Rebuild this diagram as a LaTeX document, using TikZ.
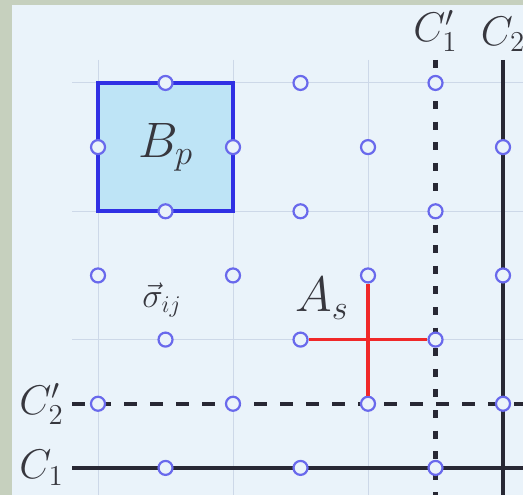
\documentclass[tikz,border=0pt]{standalone}
\usepackage{xcolor}
\usepackage{tikz}

\definecolor{bgblue}{RGB}{234,243,250}
\definecolor{framegreen}{RGB}{198,208,190}
\definecolor{gridgray}{RGB}{205,216,232}
\definecolor{plaqfill}{RGB}{190,228,246}
\definecolor{plaqblue}{RGB}{48,48,228}
\definecolor{siteblue}{RGB}{105,105,236}
\definecolor{starred}{RGB}{240,40,40}
\definecolor{cutgray}{RGB}{40,40,52}
\definecolor{labgray}{RGB}{55,55,62}

\begin{document}
\begin{tikzpicture}[x=33.75pt,y=32.08pt]
    \tikzstyle{site} = [circle, draw=siteblue, line width=1.1pt, fill=bgblue, inner sep=0pt, minimum size=7pt]
    \tikzstyle{grid} = [draw=gridgray, line width=0.5pt]
    \tikzstyle{plaq} = [rectangle, draw=plaqblue, fill=plaqfill, line width=2pt, minimum width=67.5pt, minimum height=64.16pt, text=labgray, font=\fontsize{26}{30}\selectfont]
    \tikzstyle{cut} = [draw=cutgray, line width=2pt]
    \tikzstyle{dualcut} = [draw=cutgray, line width=2pt, dash pattern=on 6.5pt off 6.5pt]
    \tikzstyle{dualvert} = [draw=cutgray, line width=2.4pt, dash pattern=on 4pt off 6.3pt]
    \tikzstyle{lab} = [text=labgray, font=\fontsize{20}{24}\selectfont]
    \tikzstyle{star} = [draw=starred, line width=1.8pt]
    \useasboundingbox (-1.452,-0.421) rectangle (6.296,7.293);
    \fill[bgblue] (-1.452,-0.421) rectangle (6.296,7.293);
    \fill[framegreen] (-1.452,-0.421) rectangle (-1.274,7.293);
    \fill[framegreen] (-1.452,7.22) rectangle (6.296,7.293);
    % light lattice
    \foreach \x in {0,2,4}
        \draw[grid] (\x,6.36) -- (\x,-0.421);
    \foreach \y in {2,4,6}
        \draw[grid] (-0.385,\y) -- (6.296,\y);
    % plaquette
    \node [plaq] (Bp) at (1,5) {$B_p$};
    % cuts
    \node [lab, anchor=east, inner xsep=4pt] (C1lab) at (-0.385,0) {$C_1$};
    \node [lab, anchor=east, inner xsep=4pt] (C2plab) at (-0.385,1) {$C_2'$};
    \node [lab, anchor=south, inner ysep=4pt] (C1plab) at (5,6.36) {$C_1'$};
    \node [lab, anchor=south, inner ysep=4pt] (C2lab) at (6,6.36) {$C_2$};
    \coordinate (C1end) at (6.296,0);
    \coordinate (C2pend) at (6.296,1);
    \coordinate (C1pend) at (5,-0.421);
    \coordinate (C2end) at (6,-0.421);
    \draw[cut] (C1lab.east) -- (C1end);
    \draw[dualcut] (C2plab.east) -- (C2pend);
    \draw[dualvert] (C1plab.south) -- (C1pend);
    \draw[cut] (C2lab.south) -- (C2end);
    % spins on the links
    \foreach \y in {0,...,6} {
        \foreach \x in {0,...,6} {
            \ifodd\numexpr\x+\y\relax
                \node [site] (e\x\y) at (\x,\y) {};
            \fi
        }
    }
    % star operator
    \draw[star] (e32) -- (e52);
    \draw[star] (e43) -- (e41);
    \node [lab, font=\fontsize{26}{30}\selectfont] (As) at (3.32,2.64) {$A_s$};
    \node [lab, font=\fontsize{18}{22}\selectfont] (sig) at (0.95,2.62) {$\vec{\sigma}_{ij}$};
\end{tikzpicture}
\end{document}
